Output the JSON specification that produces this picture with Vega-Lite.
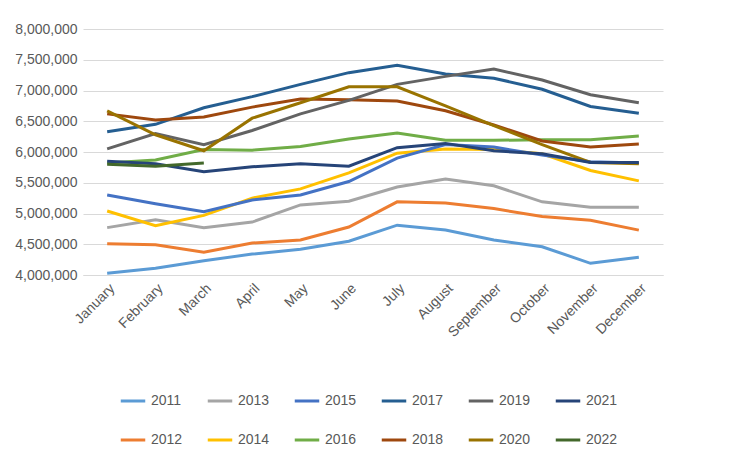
{
  "$schema": "https://vega.github.io/schema/vega-lite/v6.json",
  "width": 580,
  "height": 246,
  "padding": {"left": 14, "top": 22, "right": 90, "bottom": 10},
  "background": "white",
  "config": {
    "view": {"stroke": null},
    "font": "Liberation Sans",
    "axis": {"labelFont": "Liberation Sans", "labelFontSize": 14, "labelColor": "#595959"},
    "legend": {"labelFont": "Liberation Sans", "labelFontSize": 14, "labelColor": "#595959"}
  },
  "data": {
    "values": [
      {"year":"2011","m":"January","v":4030000},{"year":"2011","m":"February","v":4110000},{"year":"2011","m":"March","v":4230000},{"year":"2011","m":"April","v":4340000},{"year":"2011","m":"May","v":4420000},{"year":"2011","m":"June","v":4550000},{"year":"2011","m":"July","v":4810000},{"year":"2011","m":"August","v":4730000},{"year":"2011","m":"September","v":4570000},{"year":"2011","m":"October","v":4460000},{"year":"2011","m":"November","v":4190000},{"year":"2011","m":"December","v":4290000},
      {"year":"2012","m":"January","v":4510000},{"year":"2012","m":"February","v":4490000},{"year":"2012","m":"March","v":4370000},{"year":"2012","m":"April","v":4520000},{"year":"2012","m":"May","v":4570000},{"year":"2012","m":"June","v":4780000},{"year":"2012","m":"July","v":5190000},{"year":"2012","m":"August","v":5170000},{"year":"2012","m":"September","v":5080000},{"year":"2012","m":"October","v":4950000},{"year":"2012","m":"November","v":4890000},{"year":"2012","m":"December","v":4730000},
      {"year":"2013","m":"January","v":4770000},{"year":"2013","m":"February","v":4900000},{"year":"2013","m":"March","v":4770000},{"year":"2013","m":"April","v":4860000},{"year":"2013","m":"May","v":5140000},{"year":"2013","m":"June","v":5200000},{"year":"2013","m":"July","v":5430000},{"year":"2013","m":"August","v":5560000},{"year":"2013","m":"September","v":5450000},{"year":"2013","m":"October","v":5190000},{"year":"2013","m":"November","v":5100000},{"year":"2013","m":"December","v":5100000},
      {"year":"2014","m":"January","v":5040000},{"year":"2014","m":"February","v":4800000},{"year":"2014","m":"March","v":4970000},{"year":"2014","m":"April","v":5250000},{"year":"2014","m":"May","v":5400000},{"year":"2014","m":"June","v":5660000},{"year":"2014","m":"July","v":5980000},{"year":"2014","m":"August","v":6050000},{"year":"2014","m":"September","v":6040000},{"year":"2014","m":"October","v":5970000},{"year":"2014","m":"November","v":5700000},{"year":"2014","m":"December","v":5530000},
      {"year":"2015","m":"January","v":5300000},{"year":"2015","m":"February","v":5160000},{"year":"2015","m":"March","v":5030000},{"year":"2015","m":"April","v":5220000},{"year":"2015","m":"May","v":5300000},{"year":"2015","m":"June","v":5520000},{"year":"2015","m":"July","v":5900000},{"year":"2015","m":"August","v":6120000},{"year":"2015","m":"September","v":6080000},{"year":"2015","m":"October","v":5950000},{"year":"2015","m":"November","v":5840000},{"year":"2015","m":"December","v":5820000},
      {"year":"2016","m":"January","v":5820000},{"year":"2016","m":"February","v":5870000},{"year":"2016","m":"March","v":6040000},{"year":"2016","m":"April","v":6030000},{"year":"2016","m":"May","v":6090000},{"year":"2016","m":"June","v":6210000},{"year":"2016","m":"July","v":6310000},{"year":"2016","m":"August","v":6190000},{"year":"2016","m":"September","v":6190000},{"year":"2016","m":"October","v":6200000},{"year":"2016","m":"November","v":6200000},{"year":"2016","m":"December","v":6260000},
      {"year":"2017","m":"January","v":6330000},{"year":"2017","m":"February","v":6450000},{"year":"2017","m":"March","v":6720000},{"year":"2017","m":"April","v":6900000},{"year":"2017","m":"May","v":7100000},{"year":"2017","m":"June","v":7290000},{"year":"2017","m":"July","v":7410000},{"year":"2017","m":"August","v":7270000},{"year":"2017","m":"September","v":7200000},{"year":"2017","m":"October","v":7020000},{"year":"2017","m":"November","v":6740000},{"year":"2017","m":"December","v":6630000},
      {"year":"2018","m":"January","v":6620000},{"year":"2018","m":"February","v":6520000},{"year":"2018","m":"March","v":6570000},{"year":"2018","m":"April","v":6730000},{"year":"2018","m":"May","v":6860000},{"year":"2018","m":"June","v":6850000},{"year":"2018","m":"July","v":6830000},{"year":"2018","m":"August","v":6670000},{"year":"2018","m":"September","v":6440000},{"year":"2018","m":"October","v":6180000},{"year":"2018","m":"November","v":6080000},{"year":"2018","m":"December","v":6130000},
      {"year":"2019","m":"January","v":6050000},{"year":"2019","m":"February","v":6300000},{"year":"2019","m":"March","v":6120000},{"year":"2019","m":"April","v":6350000},{"year":"2019","m":"May","v":6620000},{"year":"2019","m":"June","v":6840000},{"year":"2019","m":"July","v":7100000},{"year":"2019","m":"August","v":7230000},{"year":"2019","m":"September","v":7350000},{"year":"2019","m":"October","v":7170000},{"year":"2019","m":"November","v":6930000},{"year":"2019","m":"December","v":6800000},
      {"year":"2020","m":"January","v":6670000},{"year":"2020","m":"February","v":6280000},{"year":"2020","m":"March","v":6020000},{"year":"2020","m":"April","v":6550000},{"year":"2020","m":"May","v":6800000},{"year":"2020","m":"June","v":7060000},{"year":"2020","m":"July","v":7060000},{"year":"2020","m":"August","v":6750000},{"year":"2020","m":"September","v":6430000},{"year":"2020","m":"October","v":6120000},{"year":"2020","m":"November","v":5830000},{"year":"2020","m":"December","v":5810000},
      {"year":"2021","m":"January","v":5850000},{"year":"2021","m":"February","v":5810000},{"year":"2021","m":"March","v":5680000},{"year":"2021","m":"April","v":5760000},{"year":"2021","m":"May","v":5810000},{"year":"2021","m":"June","v":5770000},{"year":"2021","m":"July","v":6070000},{"year":"2021","m":"August","v":6140000},{"year":"2021","m":"September","v":6020000},{"year":"2021","m":"October","v":5970000},{"year":"2021","m":"November","v":5830000},{"year":"2021","m":"December","v":5830000},
      {"year":"2022","m":"January","v":5800000},{"year":"2022","m":"February","v":5770000},{"year":"2022","m":"March","v":5820000}
    ]
  },
  "mark": {"type": "line", "strokeWidth": 3},
  "encoding": {
    "x": {
      "field": "m", "type": "ordinal",
      "sort": ["January","February","March","April","May","June","July","August","September","October","November","December"],
      "scale": {"type": "point", "padding": 0.5},
      "axis": {"title": null, "labelAngle": -45, "ticks": false, "grid": false, "domainColor": "#d9d9d9", "labelPadding": 6}
    },
    "y": {
      "field": "v", "type": "quantitative",
      "scale": {"domain": [4000000, 8000000]},
      "axis": {"title": null, "format": ",.0f", "tickCount": 8, "ticks": false, "domain": false, "gridColor": "#d9d9d9", "labelPadding": 6}
    },
    "color": {
      "field": "year", "type": "nominal",
      "scale": {"range": ["#5B9BD5","#ED7D31","#A5A5A5","#FFC000","#4472C4","#70AD47","#255E91","#9E480E","#636363","#997300","#264478","#43682B"]},
      "legend": {"title": null, "orient": "none", "legendX": 36, "legendY": 358, "columns": 6, "symbolType": "stroke", "symbolStrokeWidth": 3, "symbolSize": 600, "columnPadding": 18, "rowPadding": 18}
    }
  }
}
